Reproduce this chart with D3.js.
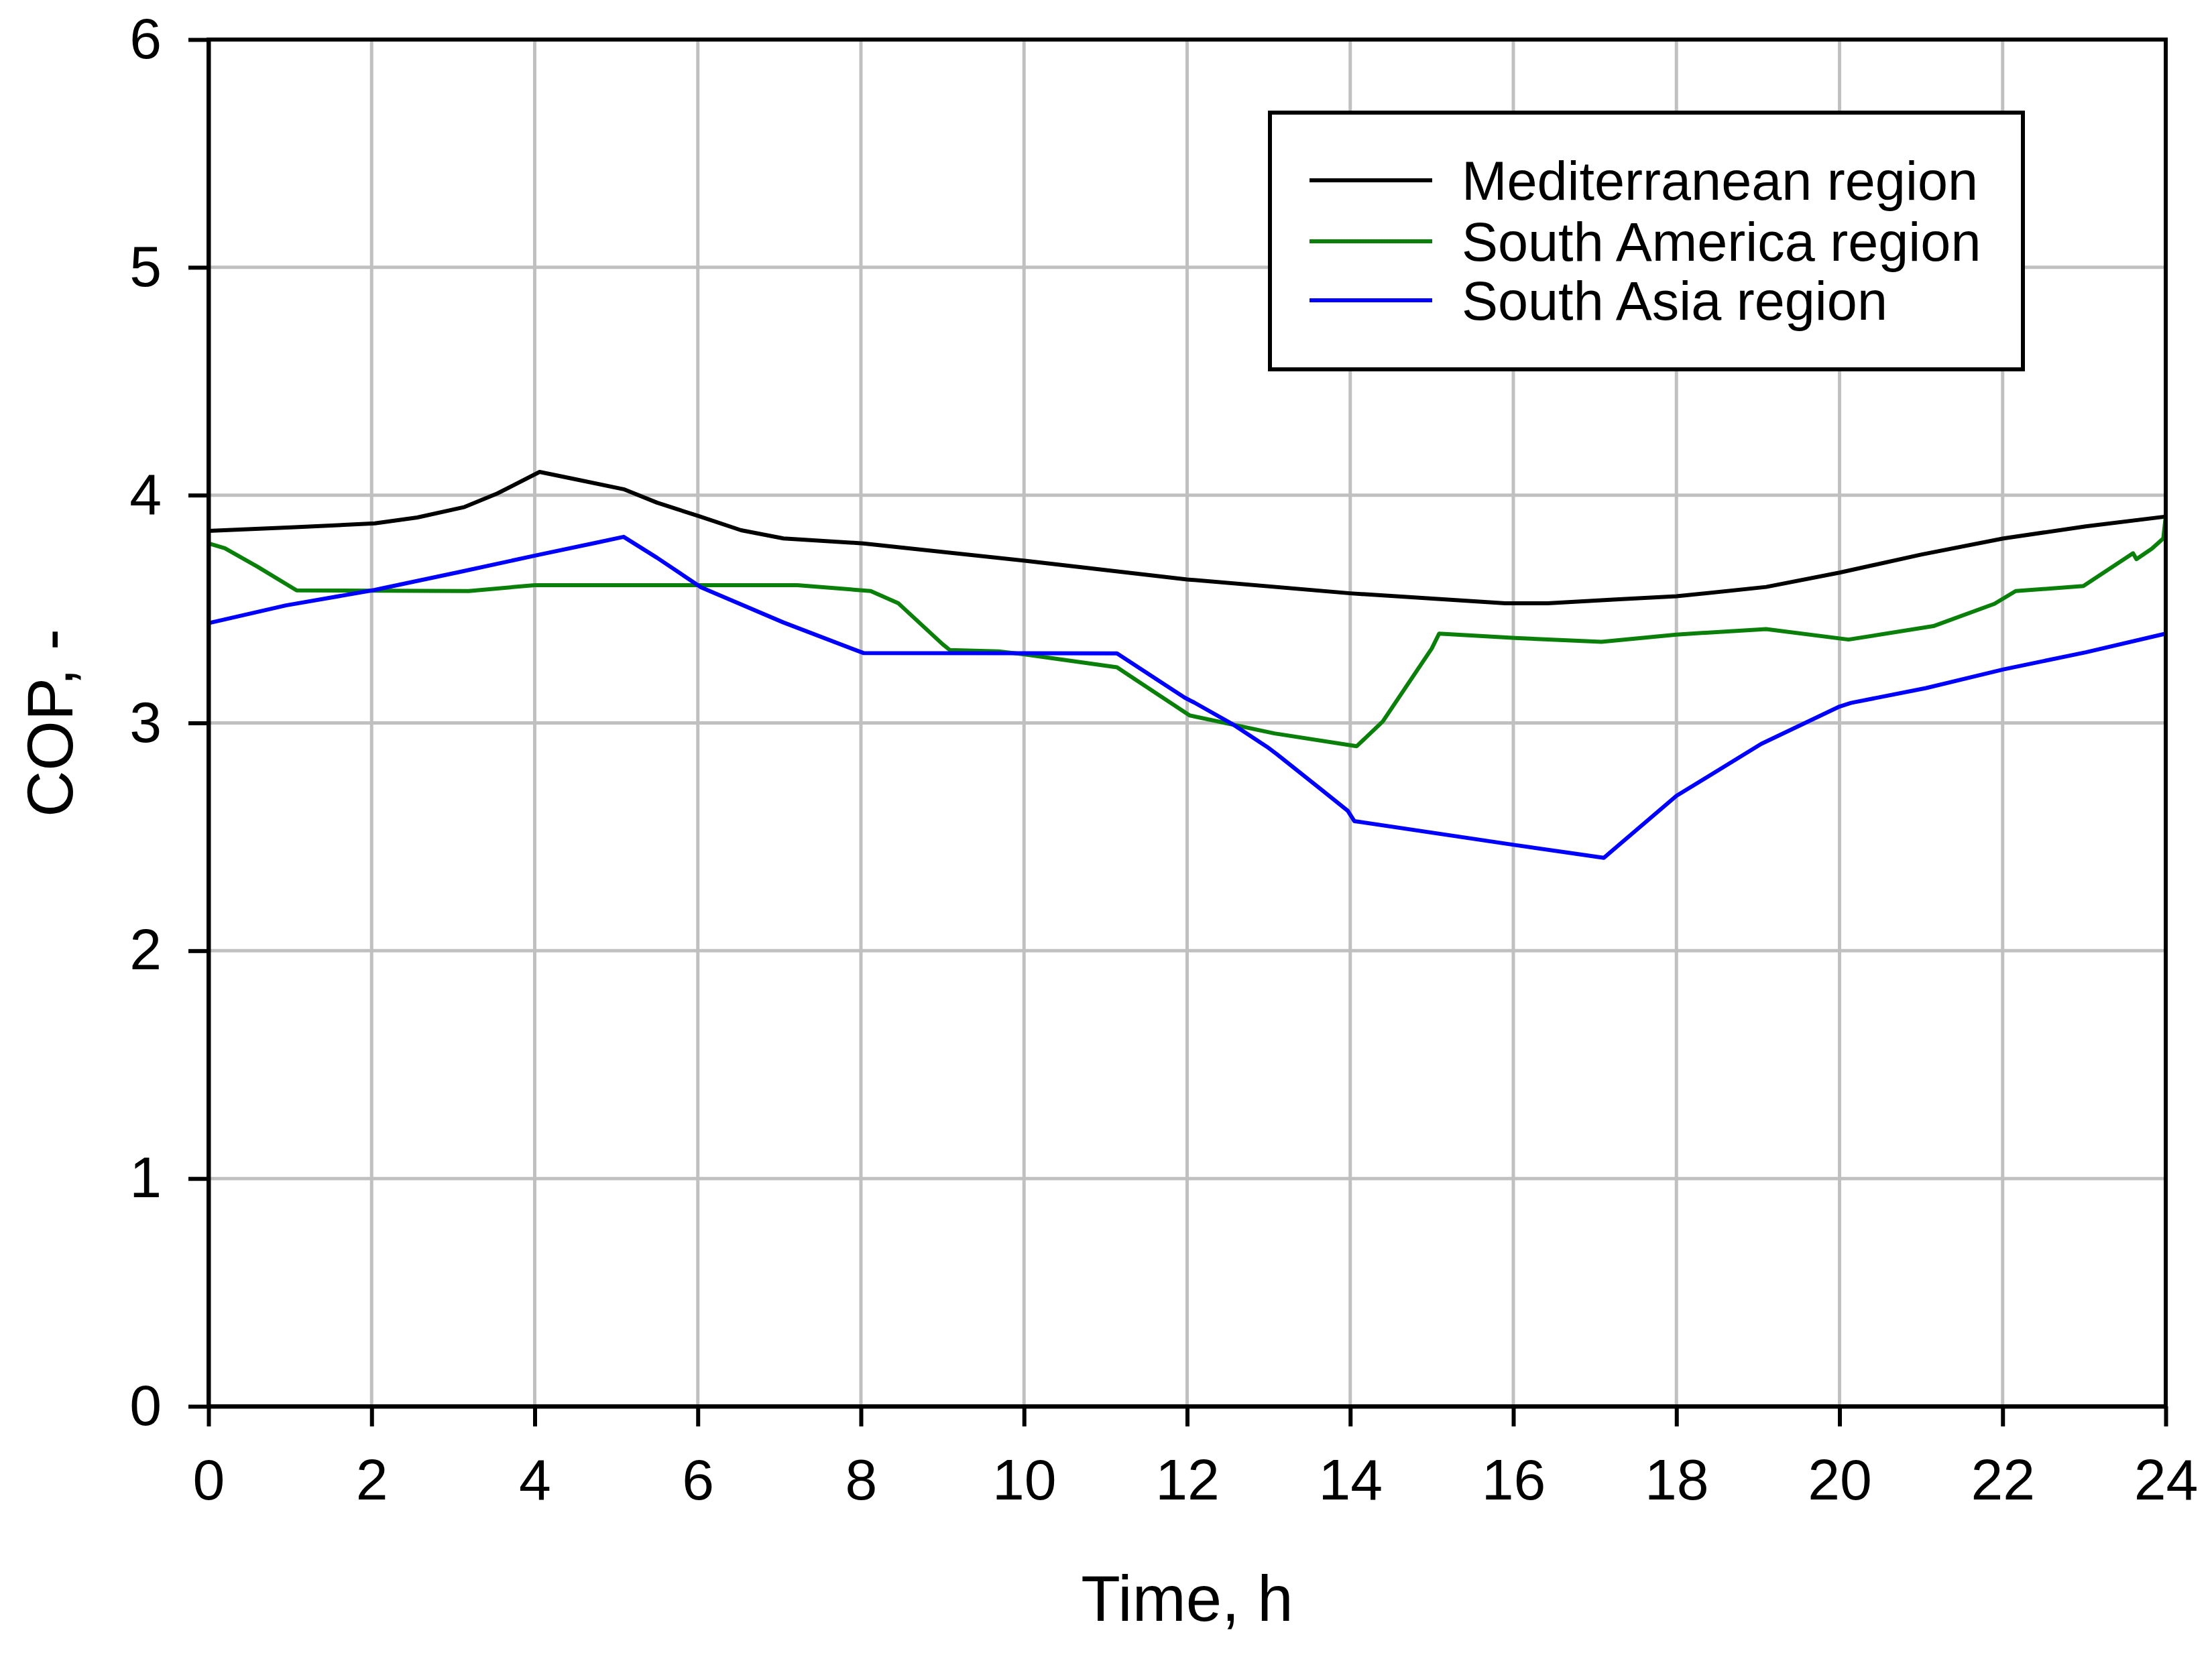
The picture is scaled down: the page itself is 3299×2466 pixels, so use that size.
<!DOCTYPE html>
<html>
<head>
<meta charset="utf-8">
<script src="https://cdn.jsdelivr.net/npm/d3@7"></script>
<style>
  body { margin: 0; background: #fff; }
  text { font-family: Arial, "Liberation Sans", sans-serif; fill: #000; }
</style>
</head>
<body>
<script>
// Data (hours, COP)
var medHours = [0, 1.06, 2.04, 2.56, 3.14, 3.54, 4.06, 4.52, 5.09, 5.5, 6.01, 6.53, 7.05, 8.03, 10.01, 12.0, 14.0, 15.9, 16.42, 17.26, 18.0, 19.1, 20.0, 21.0, 22.01, 23.02, 24];
var medCop = [3.843, 3.859, 3.876, 3.902, 3.948, 4.007, 4.102, 4.068, 4.026, 3.967, 3.908, 3.846, 3.81, 3.788, 3.712, 3.63, 3.569, 3.525, 3.525, 3.542, 3.556, 3.597, 3.66, 3.739, 3.81, 3.863, 3.906];

var samHours = [0, 0.2, 0.6, 1.08, 3.19, 4.0, 7.22, 8.12, 8.46, 9.0, 9.09, 9.69, 10.01, 11.14, 12.03, 13.07, 14.08, 14.4, 15.0, 15.09, 16.02, 17.08, 18.0, 19.1, 20.11, 21.15, 21.9, 22.16, 22.99, 23.6, 23.64, 23.83, 23.97, 24];
var samCop = [3.788, 3.767, 3.686, 3.582, 3.579, 3.605, 3.605, 3.579, 3.525, 3.346, 3.32, 3.314, 3.301, 3.244, 3.033, 2.954, 2.898, 3.007, 3.327, 3.392, 3.373, 3.356, 3.388, 3.412, 3.366, 3.425, 3.523, 3.579, 3.601, 3.745, 3.719, 3.765, 3.81, 3.908];

var asiaHours = [0, 0.95, 2.04, 3.08, 4.06, 4.75, 5.09, 5.5, 6.04, 7.05, 8.03, 11.14, 11.97, 12.09, 12.55, 12.98, 13.1, 13.65, 13.97, 14.05, 16.02, 17.11, 18.0, 19.04, 20.0, 20.14, 21.06, 22.01, 23.02, 24];
var asiaCop = [3.438, 3.516, 3.584, 3.663, 3.739, 3.791, 3.817, 3.725, 3.595, 3.441, 3.307, 3.305, 3.111, 3.089, 2.996, 2.895, 2.863, 2.706, 2.614, 2.569, 2.464, 2.408, 2.68, 2.908, 3.072, 3.088, 3.153, 3.235, 3.31, 3.392];

var seriesNames = ["Mediterranean region", "South America region", "South Asia region"];
var seriesColors = ["#000000", "#0a800a", "#0000ff"];
var xTicks = [0, 2, 4, 6, 8, 10, 12, 14, 16, 18, 20, 22, 24];
var yTicks = [0, 1, 2, 3, 4, 5, 6];

// SVG area
var svgWidth = 3299;
var svgHeight = 2466;
var margin = { top: 59, right: 69, bottom: 368, left: 311 };
var chartWidth = svgWidth - margin.left - margin.right;
var chartHeight = svgHeight - margin.top - margin.bottom;

var svg = d3.select("body")
  .append("svg")
  .attr("width", svgWidth)
  .attr("height", svgHeight);

var chartGroup = svg.append("g")
  .attr("transform", `translate(${margin.left}, ${margin.top})`);

var xScale = d3.scaleLinear().domain([0, 24]).range([0, chartWidth]);
var yScale = d3.scaleLinear().domain([0, 6]).range([chartHeight, 0]);

// Grid lines
chartGroup.append("g")
  .selectAll("line")
  .data(xTicks)
  .join("line")
  .attr("x1", d => xScale(d)).attr("x2", d => xScale(d))
  .attr("y1", 0).attr("y2", chartHeight)
  .attr("stroke", "#c0c0c0").attr("stroke-width", 5);

chartGroup.append("g")
  .selectAll("line")
  .data(yTicks)
  .join("line")
  .attr("x1", 0).attr("x2", chartWidth)
  .attr("y1", d => yScale(d)).attr("y2", d => yScale(d))
  .attr("stroke", "#c0c0c0").attr("stroke-width", 5);

// Lines
var series = [
  { hours: medHours, cop: medCop },
  { hours: samHours, cop: samCop },
  { hours: asiaHours, cop: asiaCop }
];

var drawLine = d3.line()
  .x(d => xScale(d[0]))
  .y(d => yScale(d[1]));

series.forEach(function(s, i) {
  chartGroup.append("path")
    .attr("d", drawLine(d3.zip(s.hours, s.cop)))
    .attr("fill", "none")
    .attr("stroke", seriesColors[i])
    .attr("stroke-width", 6)
    .attr("stroke-linejoin", "round");
});

// Frame (top and right)
chartGroup.append("rect")
  .attr("x", 0).attr("y", 0)
  .attr("width", chartWidth).attr("height", chartHeight)
  .attr("fill", "none").attr("stroke", "#000").attr("stroke-width", 6);

// Axes
var bottomAxis = d3.axisBottom(xScale).tickValues(xTicks).tickFormat(d3.format("d"))
  .tickSize(30).tickPadding(48).tickSizeOuter(0);
var leftAxis = d3.axisLeft(yScale).tickValues(yTicks).tickFormat(d3.format("d"))
  .tickSize(30).tickPadding(40).tickSizeOuter(0);

var gx = chartGroup.append("g")
  .attr("transform", `translate(0, ${chartHeight})`)
  .call(bottomAxis);
var gy = chartGroup.append("g").call(leftAxis);

[gx, gy].forEach(function(g) {
  g.select(".domain").attr("stroke", "#000").attr("stroke-width", 6);
  g.selectAll(".tick line").attr("stroke", "#000").attr("stroke-width", 6);
  g.selectAll(".tick text")
    .attr("font-size", 86)
    .attr("font-family", "Arial, 'Liberation Sans', sans-serif")
    .attr("fill", "#000");
});

// Axis titles
svg.append("text")
  .attr("x", margin.left + chartWidth / 2)
  .attr("y", 2418)
  .attr("text-anchor", "middle")
  .attr("font-size", 96)
  .text("Time, h");

svg.append("text")
  .attr("transform", `translate(108, ${margin.top + chartHeight / 2}) rotate(-90)`)
  .attr("text-anchor", "middle")
  .attr("font-size", 96)
  .text("COP, -");

// Legend
var legend = svg.append("g");
legend.append("rect")
  .attr("x", 1894).attr("y", 168)
  .attr("width", 1123).attr("height", 383)
  .attr("fill", "#fff").attr("stroke", "#000").attr("stroke-width", 6);

var rowY = [269, 360, 448];
seriesNames.forEach(function(name, i) {
  legend.append("line")
    .attr("x1", 1953).attr("x2", 2136)
    .attr("y1", rowY[i]).attr("y2", rowY[i])
    .attr("stroke", seriesColors[i]).attr("stroke-width", 6);
  legend.append("text")
    .attr("x", 2180)
    .attr("y", rowY[i])
    .attr("dy", "0.36em")
    .attr("font-size", 81)
    .text(name);
});
</script>
</body>
</html>
